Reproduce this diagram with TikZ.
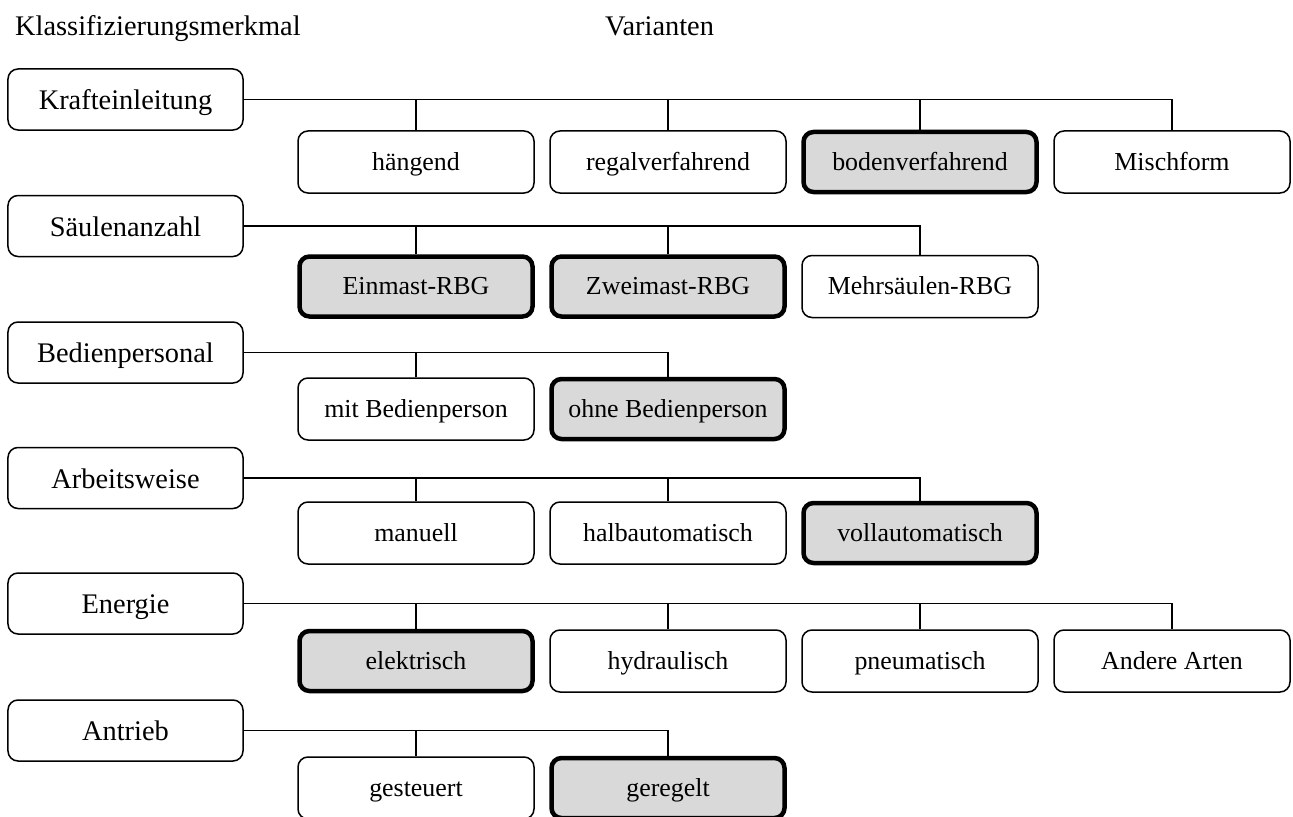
\documentclass[tikz,border=0pt]{standalone}
\usepackage{fontspec}
\setmainfont{Liberation Serif}
\definecolor{selgray}{HTML}{D9D9D9}
\begin{document}
\begin{tikzpicture}[x=1bp,y=-1bp,
 catbox/.style={draw, line width=1.5bp, rounded corners=10bp, minimum width=235bp, minimum height=61bp, inner sep=0pt, text height=24bp, text depth=4bp, fill=white, font=\fontsize{28.5}{34}\selectfont},
 varbox/.style={draw, line width=1.5bp, rounded corners=10bp, minimum width=236bp, minimum height=62bp, inner sep=0pt, text height=20bp, text depth=4bp, fill=white, font=\fontsize{26}{31}\selectfont},
 selbox/.style={varbox, line width=4.5bp, fill=selgray, minimum width=233bp, minimum height=60bp},
 conn/.style={line width=1.5bp},
 header/.style={anchor=base west, inner sep=0pt, font=\fontsize{28.5}{33}\selectfont}]
\useasboundingbox (0,0) rectangle (1293,817);

\node[header] (h1) at (15,36) {Klassifizierungsmerkmal};
\node[header] (h2) at (605,36) {Varianten};

% Row 1
\node[catbox] (c1) at (125.5,99.5) {Krafteinleitung};
\node[varbox] (v11) at (416,162) {hängend};
\node[varbox] (v12) at (668,162) {regalverfahrend};
\node[selbox] (v13) at (920,162) {bodenverfahrend};
\node[varbox] (v14) at (1172,162) {Mischform};
\draw[conn] (c1.east) -| (v14.north);
\foreach \v in {v11,v12,v13} \draw[conn] (\v.north) -- (\v.north |- c1.east);

% Row 2
\node[catbox] (c2) at (125.5,226) {Säulenanzahl};
\node[selbox] (v21) at (416,286.5) {Einmast-RBG};
\node[selbox] (v22) at (668,286.5) {Zweimast-RBG};
\node[varbox] (v23) at (920,286.5) {Mehrsäulen-RBG};
\draw[conn] (c2.east) -| (v23.north);
\foreach \v in {v21,v22} \draw[conn] (\v.north) -- (\v.north |- c2.east);

% Row 3
\node[catbox] (c3) at (125.5,352.5) {Bedienpersonal};
\node[varbox] (v31) at (416,409) {mit Bedienperson};
\node[selbox] (v32) at (668,409) {ohne Bedienperson};
\draw[conn] (c3.east) -| (v32.north);
\draw[conn] (v31.north) -- (v31.north |- c3.east);

% Row 4
\node[catbox] (c4) at (125.5,478) {Arbeitsweise};
\node[varbox] (v41) at (416,533) {manuell};
\node[varbox] (v42) at (668,533) {halbautomatisch};
\node[selbox] (v43) at (920,533) {vollautomatisch};
\draw[conn] (c4.east) -| (v43.north);
\foreach \v in {v41,v42} \draw[conn] (\v.north) -- (\v.north |- c4.east);

% Row 5
\node[catbox] (c5) at (125.5,603.5) {Energie};
\node[selbox] (v51) at (416,661) {elektrisch};
\node[varbox] (v52) at (668,661) {hydraulisch};
\node[varbox] (v53) at (920,661) {pneumatisch};
\node[varbox] (v54) at (1172,661) {Andere Arten};
\draw[conn] (c5.east) -| (v54.north);
\foreach \v in {v51,v52,v53} \draw[conn] (\v.north) -- (\v.north |- c5.east);

% Row 6
\node[catbox] (c6) at (125.5,730.5) {Antrieb};
\node[varbox] (v61) at (416,788) {gesteuert};
\node[selbox] (v62) at (668,788) {geregelt};
\draw[conn] (c6.east) -| (v62.north);
\draw[conn] (v61.north) -- (v61.north |- c6.east);
\end{tikzpicture}
\end{document}
